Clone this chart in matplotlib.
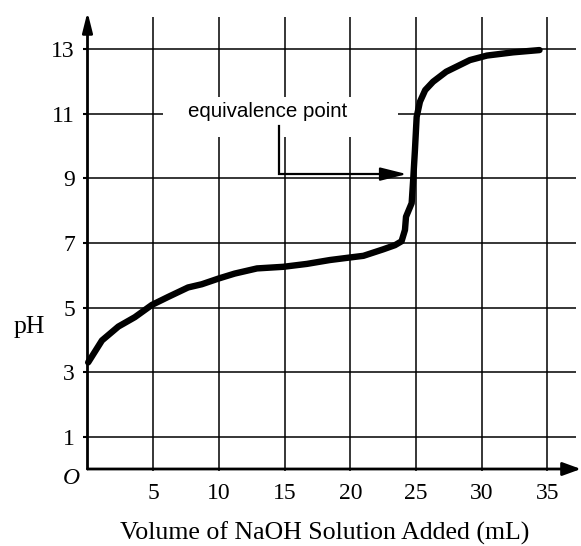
import matplotlib
matplotlib.use("Agg")
import matplotlib.pyplot as plt

# Titration curve: volume of NaOH added (mL) vs pH
volume_ml = [0.05, 1.1, 2.35, 3.6, 4.9, 6.15, 7.65, 8.7, 10.0, 11.2, 12.9, 14.9,
             16.7, 18.45, 20.0, 21.0, 22.5, 23.4, 23.9, 24.16, 24.24, 24.67, 24.8,
             24.92, 25.05, 25.3, 25.7, 26.3, 27.3, 29.1, 30.4, 32.4, 34.4]
ph_values = [3.3, 3.98, 4.41, 4.7, 5.08, 5.33, 5.62, 5.72, 5.9, 6.05, 6.21, 6.26,
             6.35, 6.47, 6.55, 6.6, 6.8, 6.93, 7.05, 7.4, 7.81, 8.23, 9.05,
             9.88, 10.9, 11.37, 11.73, 11.99, 12.3, 12.66, 12.8, 12.9, 12.97]

x_ticks = [5, 10, 15, 20, 25, 30, 35]
y_ticks = [1, 3, 5, 7, 9, 11, 13]

annotation_text = "equivalence point"
x_label = "Volume of NaOH Solution Added (mL)"
y_label = "pH"

SERIF = ["Liberation Serif", "DejaVu Serif"]
SANS = ["Liberation Sans", "DejaVu Sans"]

fig = plt.figure(figsize=(5.81, 5.46), dpi=100)
W, H = 581, 546
x_max, y_max = 37.5, 14.2
left_px, bottom_px = 87.5, 469
px_per_x, px_per_y = 13.14, 32.3
ax = fig.add_axes([left_px / W, (H - bottom_px) / H,
                   x_max * px_per_x / W, y_max * px_per_y / H])
ax.set_xlim(0, x_max)
ax.set_ylim(0, y_max)
for s in ax.spines.values():
    s.set_visible(False)

grid_kw = dict(color="black", lw=1.1, zorder=1)
grid_right = 37.2
grid_top = 14.0
# horizontal grid lines, the one at pH 11 is interrupted by the label
for y in y_ticks:
    if y == 11:
        ax.hlines(y, 0, 5.75, **grid_kw)
        ax.hlines(y, 23.6, grid_right, **grid_kw)
    else:
        ax.hlines(y, 0, grid_right, **grid_kw)
# vertical grid lines, some interrupted around the label
for x in x_ticks:
    if x in (10, 15, 20):
        ax.vlines(x, 0, 10.28, **grid_kw)
        ax.vlines(x, 11.52, grid_top, **grid_kw)
    else:
        ax.vlines(x, 0, grid_top, **grid_kw)

# axes with arrowheads
ax.annotate("", xy=(0, 14.15), xytext=(0, 0), xycoords="data",
            arrowprops=dict(arrowstyle="-|>,head_length=0.6,head_width=0.15",
                            color="black", lw=2.0, mutation_scale=20,
                            shrinkA=0, shrinkB=0), annotation_clip=False, zorder=3)
ax.annotate("", xy=(37.55, 0), xytext=(0, 0), xycoords="data",
            arrowprops=dict(arrowstyle="-|>,head_length=0.55,head_width=0.2",
                            color="black", lw=2.0, mutation_scale=20,
                            shrinkA=0, shrinkB=0), annotation_clip=False, zorder=3)

# titration curve
ax.plot(volume_ml, ph_values, color="black", lw=4.6, solid_capstyle="round",
        solid_joinstyle="round", zorder=4, clip_on=False)

# equivalence point label and bracket arrow
ax.text(7.65, 10.9, annotation_text, fontsize=14.8, family=SANS,
        ha="left", va="baseline", zorder=5)
ax.plot([14.57, 14.57, 23.0], [10.62, 9.13, 9.13], color="black", lw=1.6,
        solid_joinstyle="miter", zorder=5)
ax.annotate("", xy=(24.3, 9.13), xytext=(22.5, 9.13),
            arrowprops=dict(arrowstyle="-|>,head_length=0.8,head_width=0.2",
                            color="black", lw=1.6, mutation_scale=20,
                            shrinkA=0, shrinkB=0), zorder=5)

# ticks and labels
ax.set_xticks(x_ticks)
ax.set_xticklabels([str(v) for v in x_ticks], fontsize=17, family=SERIF)
ax.set_yticks(y_ticks)
ax.set_yticklabels([str(v) for v in y_ticks], fontsize=17, family=SERIF)
ax.tick_params(axis="x", direction="out", length=1.5, width=1.1, pad=8.5)
ax.tick_params(axis="y", direction="out", length=3.6, width=1.5, pad=5.5)

fig.text(71 / W, 1 - 478 / H, "O", fontsize=17, family=SERIF, style="italic",
         ha="center", va="center")
fig.text(29 / W, 1 - 327 / H, y_label, fontsize=18.5, family=SERIF,
         ha="center", va="center")
fig.text(325 / W, 1 - 533 / H, x_label, fontsize=18.6, family=SERIF,
         ha="center", va="center")

fig.savefig("out.png", dpi=100)
